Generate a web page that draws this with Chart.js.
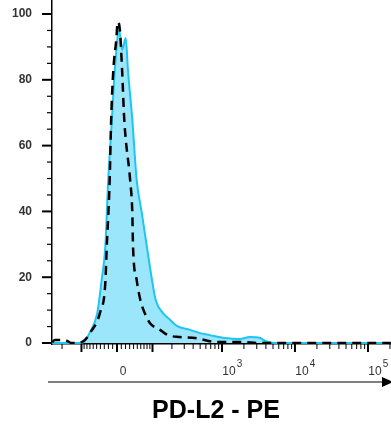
<!DOCTYPE html>
<html>
<head>
<meta charset="utf-8">
<script src="https://cdn.jsdelivr.net/npm/chart.js@4.4.1/dist/chart.umd.min.js"></script>
<style>
  html, body { margin: 0; padding: 0; background: #fff; }
</style>
</head>
<body>
<canvas id="histChart" width="391" height="425"></canvas>
<script>
// x = biexponential display position (1 unit = 1 decade), y = % of max
const stainedX = [-0.89, -0.51, -0.44, -0.37, -0.27, -0.21, -0.16, -0.12, -0.07, -0.03, 0.03, 0.07, 0.12, 0.15, 0.21, 0.27, 0.34, 0.41, 0.48, 0.53, 0.63, 0.73, 0.82, 1.00, 1.14, 1.27, 1.48, 1.68, 1.82, 1.96, 2.03, 2.16, 3.75];
const stainedY = [0, 0, 0.6, 3.3, 9.1, 19.1, 29.2, 49.5, 67.8, 83.0, 95.1, 89.1, 92.7, 83.0, 67.8, 49.5, 39.5, 29.2, 19.1, 13.1, 9.1, 7.0, 5.2, 4.0, 3.0, 2.4, 1.5, 1.2, 1.8, 1.5, 0.6, 0, 0];

const isotypeX = [-0.89, -0.85, -0.75, -0.68, -0.62, -0.53, -0.44, -0.37, -0.23, -0.16, -0.14, -0.10, -0.08, -0.05, -0.01, 0.01, 0.04, 0.07, 0.10, 0.18, 0.21, 0.22, 0.27, 0.32, 0.38, 0.45, 0.59, 0.70, 0.86, 1.07, 1.38, 1.73, 1.93, 3.75];
const isotypeY = [0.2, 0.9, 0.9, 0.6, 0, 0, 0.9, 3.0, 9.4, 18.2, 29.2, 49.5, 67.8, 83.0, 92.1, 97.6, 95.1, 83.0, 67.8, 49.5, 39.5, 29.2, 19.1, 13.1, 9.1, 6.1, 4.0, 2.4, 1.8, 1.5, 0.3, 0.3, 0, 0];

const yTicks = [0, 20, 40, 60, 80, 100];
const xTickValues = [0, 1000, 10000, 100000];
const xTickBase = ['0', '10', '10', '10'];
const xTickExp = ['', '3', '4', '5'];
const axisTitle = 'PD-L2 - PE';

const W = 73; // linear-region width of the biex scale
const biex = v => Math.asinh(v / W) / Math.LN10;

// minor tick values for the biex axis
const xMinor = [];
[-300, -200].forEach(v => xMinor.push(v));
for (let v = -90; v <= 90; v += 10) if (v !== 0) xMinor.push(v);
[100, 1000, 10000, 100000].forEach(d => { for (let k = 2; k <= 9; k++) xMinor.push(k * d); });
const xMajor = [-100, 0, 100, 1000, 10000, 100000];

const FONT = "'Liberation Sans', Arial, sans-serif";
const toPoints = (xs, ys) => xs.map((x, i) => ({ x: x, y: ys[i] }));

const axisDecor = {
  id: 'axisDecor',
  afterDraw(chart) {
    const { ctx, chartArea, scales: { x, y } } = chart;
    ctx.save();
    ctx.strokeStyle = '#000';

    // y ticks: major every 20, minor every 5
    for (let v = 0; v <= 100; v += 5) {
      const major = v % 20 === 0;
      const py = y.getPixelForValue(v);
      ctx.lineWidth = major ? 2 : 1.2;
      ctx.beginPath();
      ctx.moveTo(chartArea.left - (major ? 10 : 5), py);
      ctx.lineTo(chartArea.left, py);
      ctx.stroke();
    }

    // x ticks on the biex scale
    const drawX = (v, len, w) => {
      const px = x.getPixelForValue(biex(v));
      if (px < chartArea.left || px > chartArea.right) return;
      ctx.lineWidth = w;
      ctx.beginPath();
      ctx.moveTo(px, chartArea.bottom);
      ctx.lineTo(px, chartArea.bottom + len);
      ctx.stroke();
    };
    xMinor.forEach(v => drawX(v, 5, 1));
    xMajor.forEach(v => drawX(v, 8, 2));

    // x tick labels with superscript exponents
    ctx.fillStyle = '#333';
    ctx.textBaseline = 'alphabetic';
    xTickValues.forEach((v, i) => {
      const px = x.getPixelForValue(biex(v)) + (i === 0 ? 6 : 7);
      ctx.font = '12px ' + FONT;
      ctx.textAlign = 'center';
      ctx.fillText(xTickBase[i], px, 375);
      if (xTickExp[i]) {
        const bw = ctx.measureText(xTickBase[i]).width;
        ctx.font = '10px ' + FONT;
        ctx.textAlign = 'left';
        ctx.fillText(xTickExp[i], px + bw / 2 + 1, 367);
      }
    });

    // arrow under the axis
    const ay = 382;
    ctx.strokeStyle = '#000';
    ctx.lineWidth = 1.2;
    ctx.beginPath();
    ctx.moveTo(48, ay);
    ctx.lineTo(383, ay);
    ctx.stroke();
    ctx.fillStyle = '#000';
    ctx.beginPath();
    ctx.moveTo(393, ay);
    ctx.lineTo(382, ay - 5);
    ctx.lineTo(382, ay + 5);
    ctx.closePath();
    ctx.fill();

    // axis title
    ctx.font = 'bold 25px ' + FONT;
    ctx.textAlign = 'center';
    ctx.fillText(axisTitle, 216, 418);
    ctx.restore();
  }
};

const noPad = s => { s.paddingTop = 0; s.paddingBottom = 0; s.paddingLeft = 0; s.paddingRight = 0; };

new Chart(document.getElementById('histChart'), {
  type: 'line',
  data: {
    datasets: [
      {
        label: 'Isotype',
        data: toPoints(isotypeX, isotypeY),
        borderColor: '#000',
        borderWidth: 2.5,
        borderDash: [9, 6],
        pointRadius: 0,
        fill: false,
        cubicInterpolationMode: 'monotone'
      },
      {
        label: 'PD-L2',
        data: toPoints(stainedX, stainedY),
        borderColor: '#1fc5f1',
        backgroundColor: '#9be6fa',
        borderWidth: 2,
        pointRadius: 0,
        fill: 'origin',
        cubicInterpolationMode: 'monotone'
      }
    ]
  },
  options: {
    responsive: false,
    animation: false,
    layout: { padding: 0 },
    plugins: { legend: { display: false }, tooltip: { enabled: false } },
    scales: {
      x: {
        type: 'linear',
        min: -0.89,
        max: 3.753,
        grid: { display: false },
        border: { display: true, color: '#000', width: 1.5 },
        afterBuildTicks: s => { s.ticks = xTickValues.map(v => ({ value: biex(v) })); },
        afterFit: s => { s.height = 81; noPad(s); },
        ticks: { display: false }
      },
      y: {
        min: -0.3,
        max: 104.26,
        grid: { display: false },
        border: { display: true, color: '#000', width: 1.5 },
        afterBuildTicks: s => { s.ticks = yTicks.map(v => ({ value: v })); },
        afterFit: s => { s.width = 52; noPad(s); },
        ticks: {
          padding: 12,
          color: '#333',
          font: { family: FONT, size: 12, weight: 'bold' }
        }
      }
    }
  },
  plugins: [axisDecor]
});
</script>
</body>
</html>
